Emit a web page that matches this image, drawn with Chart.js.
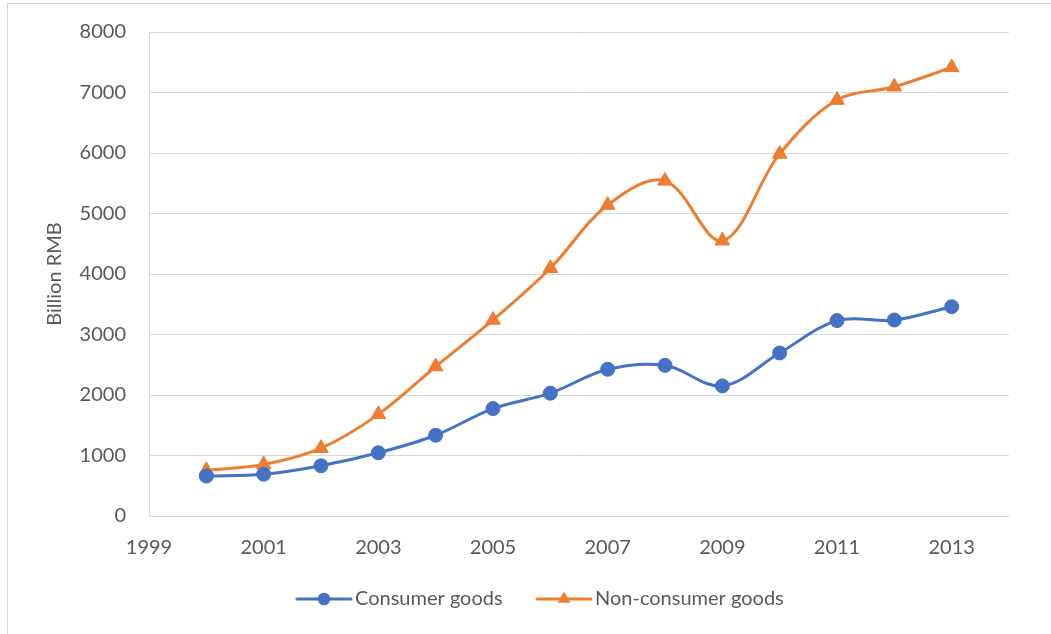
<!DOCTYPE html>
<html>
<head>
<meta charset="utf-8">
<script src="https://cdn.jsdelivr.net/npm/chart.js@4.4.1/dist/chart.umd.min.js"></script>
<style>
  html, body { margin: 0; padding: 0; background: #ffffff; }
  #wrap { position: relative; width: 1051px; height: 634px; }
</style>
</head>
<body>
<div id="wrap"><canvas id="c" width="1051" height="634"></canvas></div>
<script>
// ---- data ----
const years = [2000, 2001, 2002, 2003, 2004, 2005, 2006, 2007, 2008, 2009, 2010, 2011, 2012, 2013];
const consumerGoods = [660, 690, 830, 1045, 1335, 1775, 2030, 2425, 2490, 2150, 2695, 3230, 3240, 3460];
const nonConsumerGoods = [755, 850, 1120, 1680, 2470, 3240, 4095, 5140, 5540, 4550, 5985, 6875, 7095, 7415];
const xTickValues = [1999, 2001, 2003, 2005, 2007, 2009, 2011, 2013];
const yTickValues = [0, 1000, 2000, 3000, 4000, 5000, 6000, 7000, 8000];
const seriesNames = ['Consumer goods', 'Non-consumer goods'];
const yAxisTitle = 'Billion RMB';

// ---- style / layout ----
const W = 1051, H = 634;
const BLUE = '#4472C4', ORANGE = '#ED7D31';
const TEXT = '#595959', GRID = '#d9d9d9';
const FONT_FAMILY = 'Lato';
const FS = 20;
const AREA = { left: 149, top: 32, right: 1009, bottom: 516 };
const LEG = { line1: [297, 351], mark1: 324, text1: 355, line2: [537, 591], mark2: 564, text2: 595, cy: 599 };

Chart.defaults.font.family = FONT_FAMILY;
Chart.defaults.font.size = FS;
Chart.defaults.color = TEXT;

// measure legend texts
const mctx = document.createElement('canvas').getContext('2d');
mctx.font = FS + 'px ' + FONT_FAMILY;
const T1 = mctx.measureText(seriesNames[0]).width;
const T2 = mctx.measureText(seriesNames[1]).width;
const half = FS / 2;
let pad = Math.max(0, W - T1 - T2 - 2 * LEG.text1);
let bw = (LEG.text2 - LEG.text1) - T1 - half - pad;
if (bw < 1) bw = 1;
const L = 2 * (bw + half) + T1 + T2 + 2 * pad;
const x0 = (pad + W - L) / 2;
const cx1 = x0 + bw / 2;
const cx2 = x0 + bw + half + T1 + pad + bw / 2;

function legendImage(color, marker, line, mark, cx) {
  const hw = Math.ceil(Math.max(Math.abs(line[0] - cx), Math.abs(line[1] - cx), Math.abs(mark - cx) + 8)) + 2;
  const c = document.createElement('canvas');
  c.width = 2 * hw; c.height = 20;
  const g = c.getContext('2d');
  g.strokeStyle = color; g.fillStyle = color; g.lineWidth = 3; g.lineCap = 'round';
  g.beginPath(); g.moveTo(line[0] - cx + hw, 10); g.lineTo(line[1] - cx + hw, 10); g.stroke();
  const mx = mark - cx + hw;
  g.beginPath();
  if (marker === 'circle') {
    g.arc(mx, 10, 6.3, 0, Math.PI * 2);
  } else {
    const r = 7.5;
    g.moveTo(mx, 10 - r);
    g.lineTo(mx + r * Math.sin(2 * Math.PI / 3), 10 + r / 2);
    g.lineTo(mx - r * Math.sin(2 * Math.PI / 3), 10 + r / 2);
    g.closePath();
  }
  g.fill();
  return c;
}
const img1 = legendImage(BLUE, 'circle', LEG.line1, LEG.mark1, cx1);
const img2 = legendImage(ORANGE, 'triangle', LEG.line2, LEG.mark2, cx2);

const legTop = LEG.cy - half - pad;
const xAxisHeight = legTop - AREA.bottom;
const padBottom = H - (legTop + FS + pad + 10);

const borderPlugin = {
  id: 'outerBorder',
  beforeDraw(chart) {
    const ctx = chart.ctx;
    ctx.save();
    ctx.fillStyle = '#ffffff';
    ctx.fillRect(0, 0, W, H);
    ctx.strokeStyle = GRID;
    ctx.lineWidth = 1;
    ctx.strokeRect(7.5, 3.5, W + 20, H + 20);
    ctx.restore();
  }
};

new Chart(document.getElementById('c'), {
  type: 'line',
  data: {
    datasets: [
      {
        label: seriesNames[0],
        data: years.map((y, i) => ({ x: y, y: consumerGoods[i] })),
        borderColor: BLUE, backgroundColor: BLUE,
        borderWidth: 3, tension: 0.35,
        pointStyle: 'circle', pointRadius: 7, pointBorderWidth: 1,
        pointBackgroundColor: BLUE, pointBorderColor: BLUE
      },
      {
        label: seriesNames[1],
        data: years.map((y, i) => ({ x: y, y: nonConsumerGoods[i] })),
        borderColor: ORANGE, backgroundColor: ORANGE,
        borderWidth: 3, tension: 0.35,
        pointStyle: 'triangle', pointRadius: 8.5, pointBorderWidth: 1,
        pointBackgroundColor: ORANGE, pointBorderColor: ORANGE
      }
    ]
  },
  options: {
    responsive: false,
    animation: false,
    events: [],
    layout: { padding: { top: AREA.top, left: 0, right: 0, bottom: padBottom } },
    scales: {
      x: {
        type: 'linear', position: 'bottom',
        min: 1999, max: 2014,
        afterBuildTicks: s => { s.ticks = xTickValues.map(v => ({ value: v })); },
        afterFit: s => { s.height = xAxisHeight; },
        grid: { display: false },
        border: { display: true, color: GRID, width: 1 },
        ticks: { padding: 12, color: TEXT, font: { size: FS }, maxRotation: 0, autoSkip: false, callback: v => String(v) }
      },
      y: {
        type: 'linear', position: 'left',
        min: 0, max: 8000,
        afterBuildTicks: s => { s.ticks = yTickValues.map(v => ({ value: v })); },
        afterFit: s => { s.width = AREA.left; s.paddingTop = 0; s.paddingBottom = 0; },
        grid: { display: true, color: GRID, lineWidth: 1, drawTicks: false },
        border: { display: true, color: GRID, width: 1 },
        ticks: { padding: 23, color: TEXT, font: { size: FS }, callback: v => String(v) },
        title: { display: true, text: yAxisTitle, color: TEXT, font: { size: FS }, padding: { top: 43, bottom: 0 } }
      },
      yR: {
        type: 'linear', position: 'right', display: true,
        afterFit: s => { s.width = W - AREA.right; s.paddingTop = 0; s.paddingBottom = 0; },
        grid: { display: false }, border: { display: false },
        ticks: { display: false }
      }
    },
    plugins: {
      tooltip: { enabled: false },
      legend: {
        display: true, position: 'bottom', align: 'center',
        labels: {
          usePointStyle: true,
          pointStyleWidth: bw,
          padding: pad,
          color: TEXT,
          font: { size: FS },
          generateLabels: () => [
            { text: seriesNames[0], pointStyle: img1, fillStyle: BLUE, strokeStyle: BLUE, lineWidth: 0, hidden: false, datasetIndex: 0, fontColor: TEXT },
            { text: seriesNames[1], pointStyle: img2, fillStyle: ORANGE, strokeStyle: ORANGE, lineWidth: 0, hidden: false, datasetIndex: 1, fontColor: TEXT }
          ]
        }
      }
    }
  },
  plugins: [borderPlugin]
});
</script>
</body>
</html>
